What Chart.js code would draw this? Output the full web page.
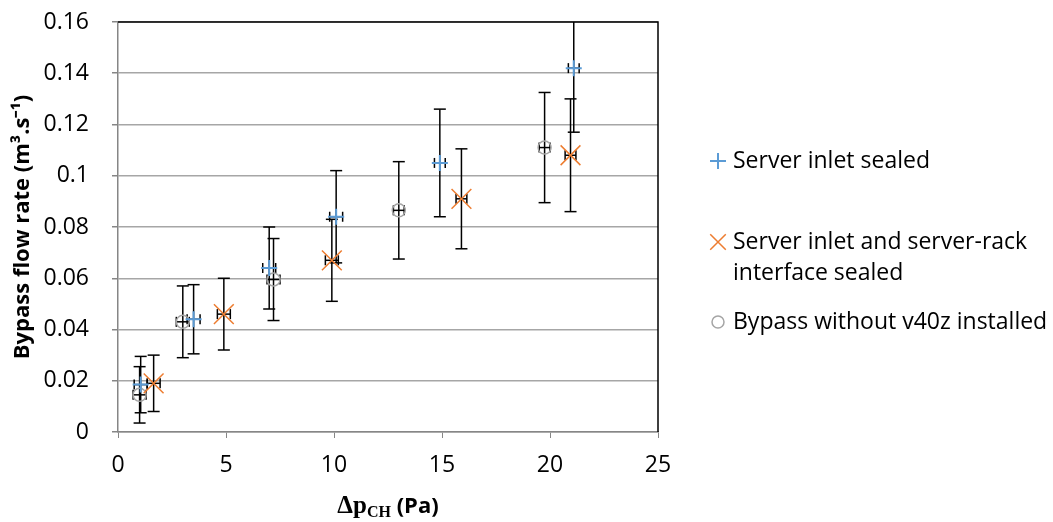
<!DOCTYPE html>
<html>
<head>
<meta charset="utf-8">
<script src="https://cdn.jsdelivr.net/npm/chart.js@4.4.0/dist/chart.umd.min.js"></script>
<style>
  html, body { margin: 0; padding: 0; background: #fff; }
  #wrap { width: 1053px; height: 522px; }
</style>
</head>
<body>
<div id="wrap"><canvas id="flowChart"></canvas></div>
<script>
// Server inlet sealed
const inletX = [1.05, 3.5, 7.0, 10.1, 14.9, 21.1];
const inletY = [0.0185, 0.044, 0.064, 0.084, 0.105, 0.142];
const inletYErr = [0.011, 0.0135, 0.016, 0.018, 0.021, 0.025];
const inletXErr = [0.3, 0.3, 0.3, 0.3, 0.25, 0.25];

// Server inlet and server-rack interface sealed
const rackX = [1.65, 4.9, 9.9, 15.9, 20.95];
const rackY = [0.019, 0.046, 0.067, 0.091, 0.108];
const rackYErr = [0.011, 0.014, 0.016, 0.0195, 0.022];
const rackXErr = [0.3, 0.3, 0.3, 0.25, 0.25];

// Bypass without v40z installed
const bypassX = [1.0, 3.0, 7.2, 13.0, 19.75];
const bypassY = [0.0145, 0.043, 0.0595, 0.0865, 0.111];
const bypassYErr = [0.011, 0.014, 0.016, 0.019, 0.0215];
const bypassXErr = [0.3, 0.3, 0.3, 0.25, 0.25];

const yTicks = [0, 0.02, 0.04, 0.06, 0.08, 0.1, 0.12, 0.14, 0.16];
const xTicks = [0, 5, 10, 15, 20, 25];

const seriesNames = [
    ['Server inlet sealed'],
    ['Server inlet and server-rack', 'interface sealed'],
    ['Bypass without v40z installed']
];

const toPoints = (xs, ys) => xs.map((v, i) => ({ x: v, y: ys[i] }));

const FONT = "'Open Sans', sans-serif";

// Error bars (both directions), clipped to the plot area
const errorBars = {
    id: 'errorBars',
    beforeDatasetsDraw(chart) {
        const { ctx, chartArea, scales: { x, y } } = chart;
        ctx.save();
        ctx.beginPath();
        ctx.rect(chartArea.left, chartArea.top, chartArea.width, chartArea.height);
        ctx.clip();
        ctx.strokeStyle = '#000';
        ctx.lineWidth = 1.5;
        const seg = (x1, y1, x2, y2) => {
            ctx.beginPath(); ctx.moveTo(x1, y1); ctx.lineTo(x2, y2); ctx.stroke();
        };
        chart.data.datasets.forEach(ds => {
            ds.data.forEach((p, i) => {
                const px = x.getPixelForValue(p.x);
                const py = y.getPixelForValue(p.y);
                const top = y.getPixelForValue(p.y + ds.yErr[i]);
                const bot = y.getPixelForValue(p.y - ds.yErr[i]);
                const l = x.getPixelForValue(p.x - ds.xErr[i]);
                const r = x.getPixelForValue(p.x + ds.xErr[i]);
                seg(px, top, px, bot);
                seg(px - 6, top, px + 6, top);
                seg(px - 6, bot, px + 6, bot);
                seg(l, py, r, py);
                seg(l, py - 5, l, py + 5);
                seg(r, py - 5, r, py + 5);
            });
        });
        ctx.restore();
    }
};

// Plot frame, axis titles and the wrapped legend
const decorations = {
    id: 'decorations',
    afterDraw(chart) {
        const { ctx, chartArea } = chart;
        ctx.save();

        // top and right border of the plot area
        ctx.strokeStyle = '#000';
        ctx.lineWidth = 1.5;
        ctx.beginPath();
        ctx.moveTo(chartArea.left, chartArea.top);
        ctx.lineTo(chartArea.right, chartArea.top);
        ctx.lineTo(chartArea.right, chartArea.bottom);
        ctx.stroke();

        // y title
        ctx.fillStyle = '#000';
        ctx.translate(23, (chartArea.top + chartArea.bottom) / 2);
        ctx.rotate(-Math.PI / 2);
        ctx.font = "bold 22px " + FONT;
        ctx.textAlign = 'center';
        ctx.textBaseline = 'middle';
        ctx.fillText('Bypass flow rate (m\u00B3.s\u207B\u00B9)', 0, 0);
        ctx.setTransform(1, 0, 0, 1, 0, 0);

        // x title: Δp with subscript CH, then (Pa)
        const cx = (chartArea.left + chartArea.right) / 2;
        const base = 513;
        const part1 = '\u0394p', part2 = 'CH', part3 = ' (Pa)';
        ctx.textAlign = 'left';
        ctx.textBaseline = 'alphabetic';
        ctx.font = "bold 25px 'Liberation Serif', serif";
        const w1 = ctx.measureText(part1).width;
        ctx.font = "bold 16px 'Liberation Serif', serif";
        const w2 = ctx.measureText(part2).width;
        ctx.font = "bold 22px " + FONT;
        const w3 = ctx.measureText(part3).width;
        let sx = cx - (w1 + w2 + w3) / 2;
        ctx.font = "bold 25px 'Liberation Serif', serif";
        ctx.fillText(part1, sx, base);
        sx += w1;
        ctx.font = "bold 16px 'Liberation Serif', serif";
        ctx.fillText(part2, sx, base + 4);
        sx += w2;
        ctx.font = "bold 22px " + FONT;
        ctx.fillText(part3, sx, base);

        // legend
        const rows = [161, 242, 322];
        ctx.font = "23px " + FONT;
        ctx.textBaseline = 'middle';
        chart.data.datasets.forEach((ds, i) => {
            ctx.strokeStyle = ds.pointBorderColor;
            ctx.fillStyle = 'rgba(0,0,0,0)';
            ctx.lineWidth = ds.pointBorderWidth;
            Chart.helpers.drawPoint(ctx, {
                pointStyle: ds.pointStyle,
                radius: ds.legendRadius,
                borderWidth: ds.pointBorderWidth,
                rotation: 0
            }, 718, rows[i]);
            ctx.fillStyle = '#000';
            seriesNames[i].forEach((line, j) => {
                ctx.fillText(line, 733, rows[i] + j * 31);
            });
        });
        ctx.restore();
    }
};

function makeSet(label, xs, ys, yErr, xErr, style, color, radius, legendRadius, width) {
    return {
        label: label,
        data: toPoints(xs, ys),
        yErr: yErr,
        xErr: xErr,
        showLine: false,
        pointStyle: style,
        pointRadius: radius,
        pointHoverRadius: radius,
        legendRadius: legendRadius,
        borderColor: color,
        backgroundColor: 'rgba(0,0,0,0)',
        pointBorderColor: color,
        pointBackgroundColor: 'rgba(0,0,0,0)',
        pointBorderWidth: width,
        borderWidth: width
    };
}

function initializeChart() {
    const ctx = document.getElementById('flowChart').getContext('2d');
    new Chart(ctx, {
        type: 'scatter',
        data: {
            datasets: [
                makeSet(seriesNames[0].join(' '), inletX, inletY, inletYErr, inletXErr, 'cross', '#5b9bd5', 8, 8, 2),
                makeSet(seriesNames[1].join(' '), rackX, rackY, rackYErr, rackXErr, 'crossRot', '#ed7d31', 14, 11, 1.5),
                makeSet(seriesNames[2].join(' '), bypassX, bypassY, bypassYErr, bypassXErr, 'circle', '#a5a5a5', 6.5, 6, 1.5)
            ]
        },
        options: {
            responsive: true,
            maintainAspectRatio: false,
            animation: false,
            layout: { padding: { left: 0, right: 395, top: 22, bottom: 0 } },
            plugins: {
                legend: { display: false },
                tooltip: { enabled: false }
            },
            scales: {
                x: {
                    type: 'linear',
                    min: 0,
                    max: 25,
                    afterFit: scale => {
                        scale.height = 90;
                        scale.paddingLeft = 0;
                        scale.paddingRight = 0;
                    },
                    afterBuildTicks: scale => { scale.ticks = xTicks.map(v => ({ value: v })); },
                    grid: {
                        color: 'rgba(0,0,0,0)',
                        tickColor: '#868686',
                        tickLength: 6,
                        drawOnChartArea: false
                    },
                    border: { color: '#868686', width: 1.5 },
                    ticks: {
                        color: '#000',
                        padding: 14,
                        font: { family: FONT, size: 23 }
                    }
                },
                y: {
                    type: 'linear',
                    min: 0,
                    max: 0.16,
                    afterFit: scale => {
                        scale.width = 118;
                        scale.paddingTop = 0;
                        scale.paddingBottom = 0;
                    },
                    afterBuildTicks: scale => { scale.ticks = yTicks.map(v => ({ value: v })); },
                    grid: {
                        color: '#a6a6a6',
                        lineWidth: 1.5,
                        tickColor: '#868686',
                        tickLength: 6
                    },
                    border: { color: '#868686', width: 1.5 },
                    ticks: {
                        color: '#000',
                        padding: 23,
                        font: { family: FONT, size: 23 },
                        callback: v => String(+v.toFixed(2))
                    }
                }
            }
        },
        plugins: [errorBars, decorations]
    });
}

document.addEventListener('DOMContentLoaded', initializeChart);
</script>
</body>
</html>
